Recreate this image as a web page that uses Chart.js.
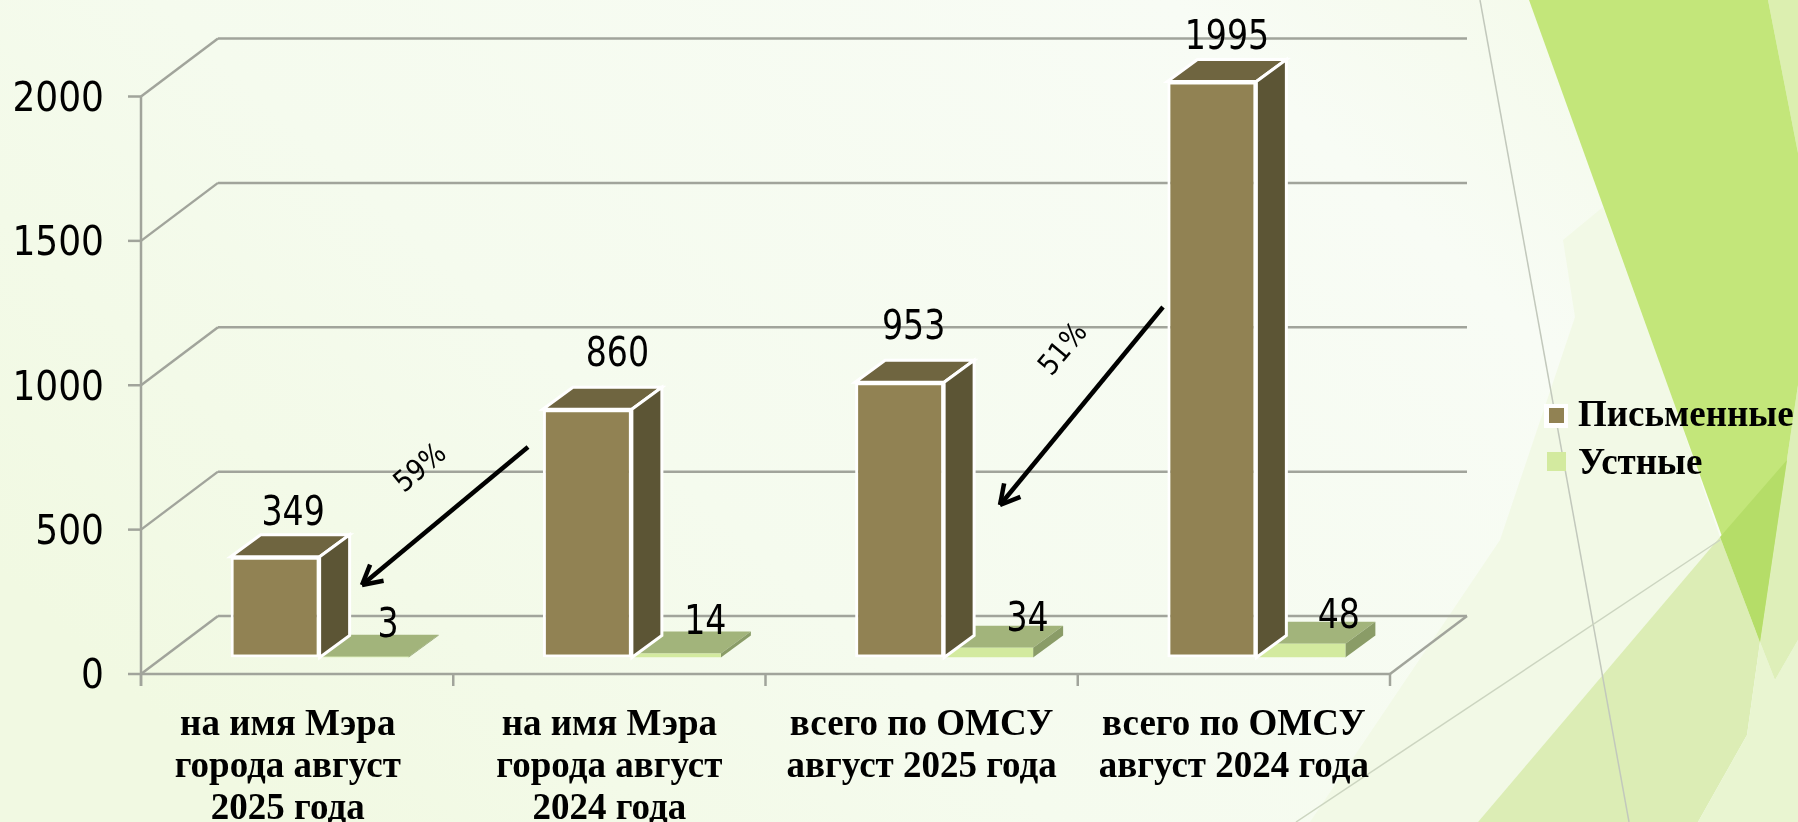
<!doctype html>
<html lang="ru">

<head>
    <meta charset="utf-8">
    <title>Письменные и устные обращения</title>
    <style>
        html, body { margin: 0; padding: 0; overflow: hidden; background: #f6fbee; }
        #bg { position: absolute; left: 0; top: 0; }
        #myChart { position: absolute; left: 0; top: 0; }
    </style>
</head>

<body>
    <!-- slide background facets -->
    <svg id="bg" width="1798" height="822" viewBox="0 0 1798 822">
        <defs>
            <linearGradient id="base" x1="0" y1="0.7" x2="1" y2="0.2">
                <stop offset="0" stop-color="#f1f9e2" />
                <stop offset="0.35" stop-color="#f5fbee" />
                <stop offset="0.8" stop-color="#f8fcf5" />
                <stop offset="1" stop-color="#f4faea" />
            </linearGradient>
        </defs>
        <rect width="1798" height="822" fill="url(#base)" />
        <polygon points="1603,207 1673,400 1720,537 1478,822 1310,822 1500,540 1575,317 1563,240" fill="#f2f9e6" />
        <polygon points="1478,822 1720,537 1760,642 1747,735 1698,822" fill="#dcedb5" />
        <polygon points="1698,822 1747,735 1760,642 1775,680 1798,640 1798,822" fill="#e9f5d1" />
        <polygon points="1760,642 1775,680 1798,640 1798,385" fill="#deefb9" />
        <polygon points="1768,0 1798,0 1798,153" fill="#dcefb0" />
        <polygon points="1529,0 1768,0 1798,153 1798,385 1760,642" fill="#c3e67a" />
        <polygon points="1720,537 1787,460 1760,642" fill="#b5dd68" />
        <line x1="1480" y1="0" x2="1629" y2="822" stroke="#c2c8bc" stroke-width="1.5" />
        <line x1="1720" y1="540" x2="1296" y2="822" stroke="#ccd5c0" stroke-width="1.5" />
    </svg>

    <canvas id="myChart" width="1798" height="822"></canvas>

    <script src="https://cdn.jsdelivr.net/npm/chart.js"></script>
    <script>
        // data
        const categories = [
            ['на имя Мэра', 'города август', '2025 года'],
            ['на имя Мэра', 'города август', '2024 года'],
            ['всего по ОМСУ', 'август 2025 года'],
            ['всего по ОМСУ', 'август 2024 года']
        ];
        const seriesNames = ['Письменные', 'Устные'];
        const written = [349, 860, 953, 1995];
        const oral = [3, 14, 34, 48];
        const yTicks = [0, 500, 1000, 1500, 2000];

        // colours: front, top, side
        const brown = ['#918253', '#6f6540', '#5c5535'];
        const green = ['#d3ea9f', '#a2b47b', '#8a9c67'];
        const gridColor = '#a1a49b';

        // 3d look
        const wall = { dx: 77, dy: 58 };       // back wall offset from the front of the axes
        const barShift = { dx: 22.5, dy: 16.5 }; // bars stand a bit inside the floor
        const depth = { dx: 30, dy: 22 };      // depth of one bar

        // hand placed data labels, offset from the top of the front face
        const writtenNudge = [[18, -42], [30, -54], [14, -54], [15, -43]];
        const oralNudge = [[24, -30], [29, -30], [39, -27], [38, -26]];

        // the arrows and percents on top of the chart
        const arrows = [
            { from: [528, 447], to: [362, 585], text: '59%', at: [421, 469], angle: -40 },
            { from: [1163, 307], to: [1000, 505], text: '51%', at: [1064, 350], angle: -50 }
        ];

        const sansFamily = '"DejaVu Sans Condensed", "DejaVu Sans"';

        function line(ctx, x1, y1, x2, y2) {
            ctx.beginPath();
            ctx.moveTo(x1, y1);
            ctx.lineTo(x2, y2);
            ctx.stroke();
        }

        function poly(ctx, pts, fill, stroke) {
            ctx.beginPath();
            pts.forEach((p, i) => i ? ctx.lineTo(p[0], p[1]) : ctx.moveTo(p[0], p[1]));
            ctx.closePath();
            ctx.fillStyle = fill;
            ctx.fill();
            if (stroke) {
                ctx.strokeStyle = stroke;
                ctx.lineWidth = 3;
                ctx.stroke();
            }
        }

        // axes frame, walls and floor
        const frame3d = {
            id: 'frame3d',
            beforeDatasetsDraw(chart) {
                const ctx = chart.ctx;
                const { x, y } = chart.scales;
                const y0 = y.getPixelForValue(0);
                ctx.save();
                ctx.strokeStyle = gridColor;
                ctx.lineWidth = 2.5;
                yTicks.forEach(v => {
                    const py = y.getPixelForValue(v);
                    line(ctx, x.left - 13, py, x.left, py);
                    line(ctx, x.left, py, x.left + wall.dx, py - wall.dy);
                    line(ctx, x.left + wall.dx, py - wall.dy, x.right + wall.dx, py - wall.dy);
                });
                line(ctx, x.left, y.getPixelForValue(2000), x.left, y0 + 12);
                line(ctx, x.left, y0, x.right, y0);
                line(ctx, x.right, y0, x.right + wall.dx, y0 - wall.dy);
                for (let i = 0; i <= categories.length; i++) {
                    const px = x.left + i * x.width / categories.length;
                    line(ctx, px, y0, px, y0 + 12);
                }
                ctx.restore();
            }
        };

        // bars are moved inside the floor, with top and side faces added
        const bars3d = {
            id: 'bars3d',
            beforeDatasetDraw(chart, args) {
                const ctx = chart.ctx;
                const colors = args.index === 0 ? brown : green;
                const edge = args.index === 0 ? '#ffffff' : null;
                ctx.save();
                ctx.translate(barShift.dx, -barShift.dy);
                chart.getDatasetMeta(args.index).data.forEach(bar => {
                    const l = bar.x - bar.width / 2, r = bar.x + bar.width / 2;
                    const t = bar.y, b = bar.base;
                    poly(ctx, [[l, t], [l + depth.dx, t - depth.dy], [r + depth.dx, t - depth.dy], [r, t]], colors[1], edge);
                    poly(ctx, [[r, t], [r + depth.dx, t - depth.dy], [r + depth.dx, b - depth.dy], [r, b]], colors[2], edge);
                });
            },
            afterDatasetDraw(chart) {
                chart.ctx.restore();
            },
            afterDatasetsDraw(chart) {
                const ctx = chart.ctx;
                ctx.fillStyle = '#000';
                ctx.font = '41px ' + sansFamily;
                ctx.textAlign = 'center';
                ctx.textBaseline = 'middle';
                [written, oral].forEach((values, d) => {
                    const nudge = d === 0 ? writtenNudge : oralNudge;
                    chart.getDatasetMeta(d).data.forEach((bar, i) => {
                        // the numbers are a little narrower than the font
                        ctx.save();
                        ctx.translate(bar.x + barShift.dx + nudge[i][0], bar.y - barShift.dy + nudge[i][1]);
                        ctx.scale(0.9, 1);
                        ctx.fillText(values[i], 0, 0);
                        ctx.restore();
                    });
                });
            }
        };

        const notes = {
            id: 'notes',
            afterDraw(chart) {
                const ctx = chart.ctx;
                ctx.save();
                ctx.strokeStyle = '#000';
                ctx.fillStyle = '#000';
                ctx.lineWidth = 4.5;
                arrows.forEach(a => {
                    line(ctx, a.from[0], a.from[1], a.to[0], a.to[1]);
                    const ang = Math.atan2(a.to[1] - a.from[1], a.to[0] - a.from[0]);
                    [-0.5, 0.5].forEach(d => {
                        line(ctx, a.to[0], a.to[1], a.to[0] - 22 * Math.cos(ang + d), a.to[1] - 22 * Math.sin(ang + d));
                    });
                    ctx.save();
                    ctx.translate(a.at[0], a.at[1]);
                    ctx.rotate(a.angle * Math.PI / 180);
                    ctx.font = '29px ' + sansFamily;
                    ctx.textAlign = 'center';
                    ctx.textBaseline = 'middle';
                    ctx.fillText(a.text, 0, 0);
                    ctx.restore();
                });

                // legend swatches, the library puts its own box too far from the text
                ctx.fillStyle = '#ffffff';
                ctx.fillRect(1544, 404, 24, 24);
                ctx.fillStyle = brown[0];
                ctx.fillRect(1549, 408, 15, 15);
                ctx.fillStyle = green[0];
                ctx.fillRect(1547, 452, 19, 19);
                ctx.restore();
            }
        };

        const legendPlace = {
            id: 'legendPlace',
            afterLayout(chart) {
                const l = chart.legend;
                l.left = 1547.5;
                l.right = 1798;
                l.top = 387;
                l.bottom = 600;
            }
        };

        // config
        const config = {
            type: 'bar',
            data: {
                labels: categories,
                datasets: [{
                    label: seriesNames[0],
                    data: written,
                    backgroundColor: brown[0],
                    borderColor: '#ffffff',
                    borderWidth: 3,
                    borderSkipped: false
                }, {
                    label: seriesNames[1],
                    data: oral,
                    backgroundColor: green[0],
                    borderWidth: 0
                }]
            },
            plugins: [frame3d, bars3d, notes, legendPlace],
            options: {
                responsive: false,
                animation: false,
                devicePixelRatio: 1,
                barPercentage: 1,
                categoryPercentage: 0.57,
                layout: { padding: { top: 96.5, right: 408, left: 0, bottom: 0 } },
                plugins: {
                    tooltip: { enabled: false },
                    legend: {
                        position: 'chartArea',
                        align: 'start',
                        labels: {
                            boxWidth: 1,
                            boxHeight: 1,
                            padding: 11,
                            color: '#000',
                            font: { family: '"Liberation Serif"', size: 37, weight: 'bold' },
                            generateLabels: chart => chart.data.datasets.map((d, i) => ({
                                text: d.label,
                                fillStyle: 'rgba(0,0,0,0)',
                                strokeStyle: 'rgba(0,0,0,0)',
                                lineWidth: 0,
                                datasetIndex: i
                            }))
                        }
                    }
                },
                scales: {
                    x: {
                        grid: { display: false, drawTicks: false },
                        border: { display: false },
                        ticks: {
                            autoSkip: false,
                            maxRotation: 0,
                            padding: 30,
                            color: '#000',
                            font: { family: '"Liberation Serif"', size: 37, weight: 'bold', lineHeight: 1.14 }
                        },
                        afterFit: scale => { scale.height = 148; },
                        // first label sits a little left of its group in the picture
                        afterTickToLabelConversion: scale => { scale.ticks[0].value = -0.03; }
                    },
                    y: {
                        min: 0,
                        max: 2000,
                        grid: { display: false, drawTicks: false },
                        border: { display: false },
                        ticks: {
                            stepSize: 500,
                            padding: 37,
                            labelOffset: 4,
                            color: '#000',
                            font: { family: sansFamily, size: 40 },
                            callback: value => String(value)
                        },
                        afterFit: scale => { scale.width = 141; }
                    }
                }
            }
        };

        // render
        const myChart = new Chart(document.getElementById('myChart'), config);
    </script>
</body>

</html>
